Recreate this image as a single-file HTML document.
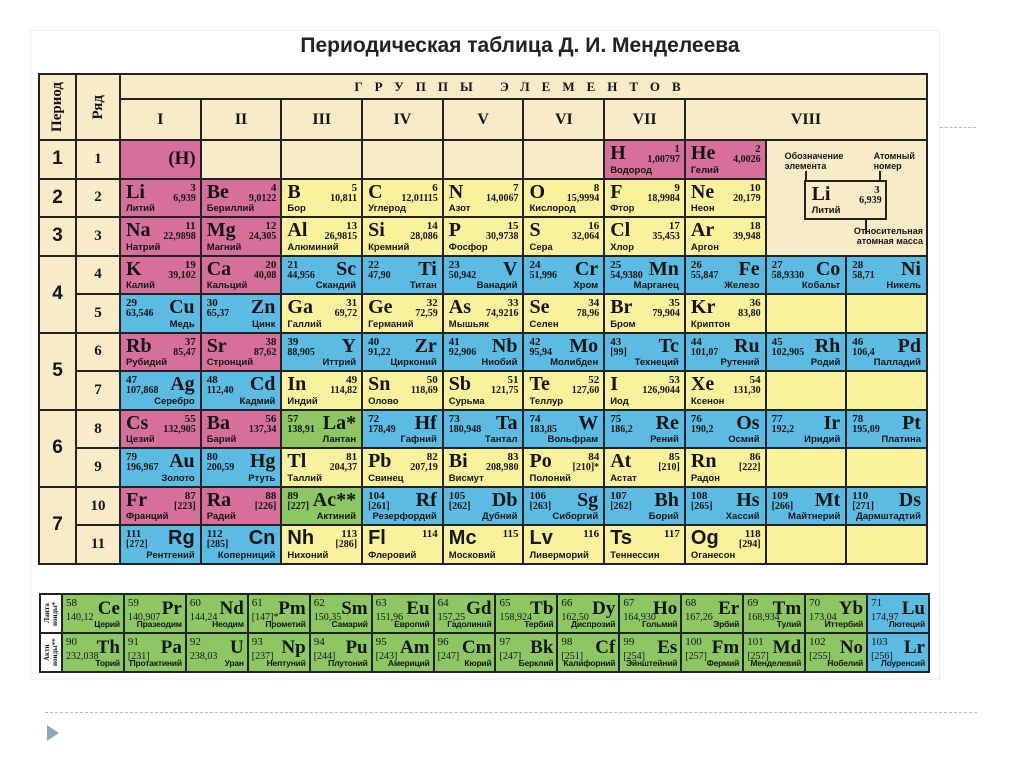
<!DOCTYPE html>
<html><head><meta charset="utf-8"><style>
*{margin:0;padding:0;box-sizing:border-box}
body{width:1024px;height:767px;background:#fff;position:relative;overflow:hidden;font-family:"Liberation Serif","DejaVu Serif",serif}
.title{position:absolute;left:0;width:1040px;top:34px;text-align:center;font:bold 21px "Liberation Sans","DejaVu Sans",sans-serif;color:#222}
.frame{position:absolute;left:30px;top:30px;width:910px;height:650px;background:#fff;border:1px solid #eee}
.dash{position:absolute;border-top:1.5px dashed #a9bccb}
.tri{position:absolute;left:47px;top:725px;width:0;height:0;border-top:8px solid transparent;border-bottom:8px solid transparent;border-left:12px solid #8fa7bd}
.t{position:absolute;left:38px;top:73px;width:890px;height:492px;display:grid;grid-template-columns:35px 42px repeat(10,minmax(0,1fr));grid-template-rows:23px 39px repeat(11,minmax(0,1fr));gap:2px;background:#222;border:2px solid #222}
.t>div{background:#f8ebc8;position:relative;color:#151515;overflow:hidden}
.t>div.p{background:#d6709b}.t>div.y{background:#f9f19c}.t>div.b{background:#5bbbe2}.t>div.g{background:#8cc763}
.hd{display:flex;align-items:center;justify-content:center;font-weight:bold}
.gr{letter-spacing:12px;font-size:13px}
.rn{font-size:16px}
.pn{font:bold 19px "Liberation Sans",sans-serif}
.ry{font-size:15px}
.vt{writing-mode:vertical-rl;transform:rotate(180deg);font-size:15px}
.c b{position:absolute;left:5px;top:1px;font-size:20px;line-height:22px}
.c i{position:absolute;right:4px;top:3px;font-size:11px;font-style:normal;font-weight:bold;line-height:11px}
.c u{position:absolute;right:4px;top:13px;font-size:10px;text-decoration:none;font-weight:bold;line-height:11px}
.c s{position:absolute;left:5px;bottom:2px;font:bold 9.5px "Liberation Sans",sans-serif;text-decoration:none;line-height:11px;white-space:nowrap}
.d b{left:auto;right:5px}.d i,.d u{right:auto;left:5px}.d s{left:auto;right:5px}
.sn b{font-family:"Liberation Sans",sans-serif}
.l{position:absolute;left:39px;top:593px;width:891px;height:80px;display:grid;grid-template-columns:20px repeat(14,minmax(0,1fr));grid-template-rows:1fr 1fr;gap:2px;background:#222;border:2px solid #222}
.l>div{position:relative;background:#8cc763;color:#151515;overflow:hidden}
.l>div.b{background:#5bbbe2}
.l>div.lb{background:#fff;writing-mode:vertical-rl;transform:rotate(180deg);font:bold 7px "Liberation Serif",serif;text-align:center;line-height:8px;display:flex;align-items:center;justify-content:center}
.l .c b{font-size:19px;top:3px;right:3px}
.l .c i{top:3px;left:3px;font-size:11px;font-weight:normal}
.l .c u{top:17px;left:3px;font-size:10px;font-weight:normal}
.l .c s{font-size:8.5px;right:3px;letter-spacing:-0.2px}
.lg{font:bold 9px "Liberation Sans",sans-serif;line-height:10px;position:absolute}
</style></head><body>
<div class="frame"></div>
<div class="title">Периодическая таблица Д. И. Менделеева</div>
<div class="dash" style="left:940px;top:127px;width:36px"></div>
<div class="dash" style="left:45px;top:712px;width:932px"></div>
<div class="tri"></div>

<div class="t">
<div class="hd" style="grid-area:1/1/3/2"><span class="vt">Период</span></div>
<div class="hd" style="grid-area:1/2/3/3"><span class="vt">Ряд</span></div>
<div class="hd gr" style="grid-area:1/3/2/13">ГРУППЫ ЭЛЕМЕНТОВ</div>
<div class="hd rn" style="grid-area:2/3">I</div><div class="hd rn" style="grid-area:2/4">II</div><div class="hd rn" style="grid-area:2/5">III</div><div class="hd rn" style="grid-area:2/6">IV</div><div class="hd rn" style="grid-area:2/7">V</div><div class="hd rn" style="grid-area:2/8">VI</div><div class="hd rn" style="grid-area:2/9">VII</div><div class="hd rn" style="grid-area:2/10/3/13">VIII</div>
<div class="hd pn" style="grid-area:3/1">1</div><div class="hd pn" style="grid-area:4/1">2</div><div class="hd pn" style="grid-area:5/1">3</div><div class="hd pn" style="grid-area:6/1/8/2">4</div><div class="hd pn" style="grid-area:8/1/10/2">5</div><div class="hd pn" style="grid-area:10/1/12/2">6</div><div class="hd pn" style="grid-area:12/1/14/2">7</div>
<div class="hd ry" style="grid-area:3/2">1</div><div class="hd ry" style="grid-area:4/2">2</div><div class="hd ry" style="grid-area:5/2">3</div><div class="hd ry" style="grid-area:6/2">4</div><div class="hd ry" style="grid-area:7/2">5</div><div class="hd ry" style="grid-area:8/2">6</div><div class="hd ry" style="grid-area:9/2">7</div><div class="hd ry" style="grid-area:10/2">8</div><div class="hd ry" style="grid-area:11/2">9</div><div class="hd ry" style="grid-area:12/2">10</div><div class="hd ry" style="grid-area:13/2">11</div>

<div class="p" style="grid-area:3/3;display:flex;align-items:center;justify-content:flex-end;padding-right:4px;font-weight:bold;font-size:19px">(H)</div>
<div style="grid-area:3/4"></div><div style="grid-area:3/5"></div><div style="grid-area:3/6"></div><div style="grid-area:3/7"></div><div style="grid-area:3/8"></div>
<div class="p c" style="grid-area:3/9"><b>H</b><i>1</i><u>1,00797</u><s>Водород</s></div>
<div class="p c" style="grid-area:3/10"><b>He</b><i>2</i><u>4,0026</u><s>Гелий</s></div>
<div style="grid-area:3/11/6/13">
<div class="lg" style="left:18px;top:10px">Обозначение<br>элемента</div>
<div class="lg" style="left:107px;top:10px">Атомный<br>номер</div>
<div style="position:absolute;left:38px;top:30px;width:2px;height:10px;background:#222"></div>
<div style="position:absolute;left:112px;top:30px;width:2px;height:10px;background:#222"></div>
<div style="position:absolute;left:37px;top:39px;width:83px;height:40px;border:2px solid #222"><b style="position:absolute;left:6px;top:1px;font-size:20px">Li</b><b style="position:absolute;right:5px;top:2px;font-size:11px">3</b><b style="position:absolute;right:3px;top:13px;font-size:10px">6,939</b><b style="position:absolute;left:6px;bottom:2px;font:bold 9.5px 'Liberation Sans',sans-serif">Литий</b></div>
<div style="position:absolute;left:98px;top:79px;width:2px;height:14px;background:#222"></div>
<div class="lg" style="right:3px;top:85px;text-align:right">Относительная<br>атомная масса</div>
</div>

<div class="p c" style="grid-area:4/3"><b>Li</b><i>3</i><u>6,939</u><s>Литий</s></div>
<div class="p c" style="grid-area:4/4"><b>Be</b><i>4</i><u>9,0122</u><s>Бериллий</s></div>
<div class="y c" style="grid-area:4/5"><b>B</b><i>5</i><u>10,811</u><s>Бор</s></div>
<div class="y c" style="grid-area:4/6"><b>C</b><i>6</i><u>12,01115</u><s>Углерод</s></div>
<div class="y c" style="grid-area:4/7"><b>N</b><i>7</i><u>14,0067</u><s>Азот</s></div>
<div class="y c" style="grid-area:4/8"><b>O</b><i>8</i><u>15,9994</u><s>Кислород</s></div>
<div class="y c" style="grid-area:4/9"><b>F</b><i>9</i><u>18,9984</u><s>Фтор</s></div>
<div class="y c" style="grid-area:4/10"><b>Ne</b><i>10</i><u>20,179</u><s>Неон</s></div>

<div class="p c" style="grid-area:5/3"><b>Na</b><i>11</i><u>22,9898</u><s>Натрий</s></div>
<div class="p c" style="grid-area:5/4"><b>Mg</b><i>12</i><u>24,305</u><s>Магний</s></div>
<div class="y c" style="grid-area:5/5"><b>Al</b><i>13</i><u>26,9815</u><s>Алюминий</s></div>
<div class="y c" style="grid-area:5/6"><b>Si</b><i>14</i><u>28,086</u><s>Кремний</s></div>
<div class="y c" style="grid-area:5/7"><b>P</b><i>15</i><u>30,9738</u><s>Фосфор</s></div>
<div class="y c" style="grid-area:5/8"><b>S</b><i>16</i><u>32,064</u><s>Сера</s></div>
<div class="y c" style="grid-area:5/9"><b>Cl</b><i>17</i><u>35,453</u><s>Хлор</s></div>
<div class="y c" style="grid-area:5/10"><b>Ar</b><i>18</i><u>39,948</u><s>Аргон</s></div>

<div class="p c" style="grid-area:6/3"><b>K</b><i>19</i><u>39,102</u><s>Калий</s></div>
<div class="p c" style="grid-area:6/4"><b>Ca</b><i>20</i><u>40,08</u><s>Кальций</s></div>
<div class="b c d" style="grid-area:6/5"><b>Sc</b><i>21</i><u>44,956</u><s>Скандий</s></div>
<div class="b c d" style="grid-area:6/6"><b>Ti</b><i>22</i><u>47,90</u><s>Титан</s></div>
<div class="b c d" style="grid-area:6/7"><b>V</b><i>23</i><u>50,942</u><s>Ванадий</s></div>
<div class="b c d" style="grid-area:6/8"><b>Cr</b><i>24</i><u>51,996</u><s>Хром</s></div>
<div class="b c d" style="grid-area:6/9"><b>Mn</b><i>25</i><u>54,9380</u><s>Марганец</s></div>
<div class="b c d" style="grid-area:6/10"><b>Fe</b><i>26</i><u>55,847</u><s>Железо</s></div>
<div class="b c d" style="grid-area:6/11"><b>Co</b><i>27</i><u>58,9330</u><s>Кобальт</s></div>
<div class="b c d" style="grid-area:6/12"><b>Ni</b><i>28</i><u>58,71</u><s>Никель</s></div>

<div class="b c d" style="grid-area:7/3"><b>Cu</b><i>29</i><u>63,546</u><s>Медь</s></div>
<div class="b c d" style="grid-area:7/4"><b>Zn</b><i>30</i><u>65,37</u><s>Цинк</s></div>
<div class="y c" style="grid-area:7/5"><b>Ga</b><i>31</i><u>69,72</u><s>Галлий</s></div>
<div class="y c" style="grid-area:7/6"><b>Ge</b><i>32</i><u>72,59</u><s>Германий</s></div>
<div class="y c" style="grid-area:7/7"><b>As</b><i>33</i><u>74,9216</u><s>Мышьяк</s></div>
<div class="y c" style="grid-area:7/8"><b>Se</b><i>34</i><u>78,96</u><s>Селен</s></div>
<div class="y c" style="grid-area:7/9"><b>Br</b><i>35</i><u>79,904</u><s>Бром</s></div>
<div class="y c" style="grid-area:7/10"><b>Kr</b><i>36</i><u>83,80</u><s>Криптон</s></div>
<div class="y" style="grid-area:7/11"></div><div class="y" style="grid-area:7/12"></div>

<div class="p c" style="grid-area:8/3"><b>Rb</b><i>37</i><u>85,47</u><s>Рубидий</s></div>
<div class="p c" style="grid-area:8/4"><b>Sr</b><i>38</i><u>87,62</u><s>Стронций</s></div>
<div class="b c d" style="grid-area:8/5"><b>Y</b><i>39</i><u>88,905</u><s>Иттрий</s></div>
<div class="b c d" style="grid-area:8/6"><b>Zr</b><i>40</i><u>91,22</u><s>Цирконий</s></div>
<div class="b c d" style="grid-area:8/7"><b>Nb</b><i>41</i><u>92,906</u><s>Ниобий</s></div>
<div class="b c d" style="grid-area:8/8"><b>Mo</b><i>42</i><u>95,94</u><s>Молибден</s></div>
<div class="b c d" style="grid-area:8/9"><b>Tc</b><i>43</i><u>[99]</u><s>Технеций</s></div>
<div class="b c d" style="grid-area:8/10"><b>Ru</b><i>44</i><u>101,07</u><s>Рутений</s></div>
<div class="b c d" style="grid-area:8/11"><b>Rh</b><i>45</i><u>102,905</u><s>Родий</s></div>
<div class="b c d" style="grid-area:8/12"><b>Pd</b><i>46</i><u>106,4</u><s>Палладий</s></div>

<div class="b c d" style="grid-area:9/3"><b>Ag</b><i>47</i><u>107,868</u><s>Серебро</s></div>
<div class="b c d" style="grid-area:9/4"><b>Cd</b><i>48</i><u>112,40</u><s>Кадмий</s></div>
<div class="y c" style="grid-area:9/5"><b>In</b><i>49</i><u>114,82</u><s>Индий</s></div>
<div class="y c" style="grid-area:9/6"><b>Sn</b><i>50</i><u>118,69</u><s>Олово</s></div>
<div class="y c" style="grid-area:9/7"><b>Sb</b><i>51</i><u>121,75</u><s>Сурьма</s></div>
<div class="y c" style="grid-area:9/8"><b>Te</b><i>52</i><u>127,60</u><s>Теллур</s></div>
<div class="y c" style="grid-area:9/9"><b>I</b><i>53</i><u>126,9044</u><s>Иод</s></div>
<div class="y c" style="grid-area:9/10"><b>Xe</b><i>54</i><u>131,30</u><s>Ксенон</s></div>
<div class="y" style="grid-area:9/11"></div><div class="y" style="grid-area:9/12"></div>

<div class="p c" style="grid-area:10/3"><b>Cs</b><i>55</i><u>132,905</u><s>Цезий</s></div>
<div class="p c" style="grid-area:10/4"><b>Ba</b><i>56</i><u>137,34</u><s>Барий</s></div>
<div class="g c d" style="grid-area:10/5"><b>La*</b><i>57</i><u>138,91</u><s>Лантан</s></div>
<div class="b c d" style="grid-area:10/6"><b>Hf</b><i>72</i><u>178,49</u><s>Гафний</s></div>
<div class="b c d" style="grid-area:10/7"><b>Ta</b><i>73</i><u>180,948</u><s>Тантал</s></div>
<div class="b c d" style="grid-area:10/8"><b>W</b><i>74</i><u>183,85</u><s>Вольфрам</s></div>
<div class="b c d" style="grid-area:10/9"><b>Re</b><i>75</i><u>186,2</u><s>Рений</s></div>
<div class="b c d" style="grid-area:10/10"><b>Os</b><i>76</i><u>190,2</u><s>Осмий</s></div>
<div class="b c d" style="grid-area:10/11"><b>Ir</b><i>77</i><u>192,2</u><s>Иридий</s></div>
<div class="b c d" style="grid-area:10/12"><b>Pt</b><i>78</i><u>195,09</u><s>Платина</s></div>

<div class="b c d" style="grid-area:11/3"><b>Au</b><i>79</i><u>196,967</u><s>Золото</s></div>
<div class="b c d" style="grid-area:11/4"><b>Hg</b><i>80</i><u>200,59</u><s>Ртуть</s></div>
<div class="y c" style="grid-area:11/5"><b>Tl</b><i>81</i><u>204,37</u><s>Таллий</s></div>
<div class="y c" style="grid-area:11/6"><b>Pb</b><i>82</i><u>207,19</u><s>Свинец</s></div>
<div class="y c" style="grid-area:11/7"><b>Bi</b><i>83</i><u>208,980</u><s>Висмут</s></div>
<div class="y c" style="grid-area:11/8"><b>Po</b><i>84</i><u>[210]*</u><s>Полоний</s></div>
<div class="y c" style="grid-area:11/9"><b>At</b><i>85</i><u>[210]</u><s>Астат</s></div>
<div class="y c" style="grid-area:11/10"><b>Rn</b><i>86</i><u>[222]</u><s>Радон</s></div>
<div class="y" style="grid-area:11/11"></div><div class="y" style="grid-area:11/12"></div>

<div class="p c" style="grid-area:12/3"><b>Fr</b><i>87</i><u>[223]</u><s>Франций</s></div>
<div class="p c" style="grid-area:12/4"><b>Ra</b><i>88</i><u>[226]</u><s>Радий</s></div>
<div class="g c d" style="grid-area:12/5"><b>Ac**</b><i>89</i><u>[227]</u><s>Актиний</s></div>
<div class="b c d" style="grid-area:12/6"><b>Rf</b><i>104</i><u>[261]</u><s>Резерфордий</s></div>
<div class="b c d" style="grid-area:12/7"><b>Db</b><i>105</i><u>[262]</u><s>Дубний</s></div>
<div class="b c d" style="grid-area:12/8"><b>Sg</b><i>106</i><u>[263]</u><s>Сиборгий</s></div>
<div class="b c d" style="grid-area:12/9"><b>Bh</b><i>107</i><u>[262]</u><s>Борий</s></div>
<div class="b c d" style="grid-area:12/10"><b>Hs</b><i>108</i><u>[265]</u><s>Хассий</s></div>
<div class="b c d" style="grid-area:12/11"><b>Mt</b><i>109</i><u>[266]</u><s>Майтнерий</s></div>
<div class="b c d" style="grid-area:12/12"><b>Ds</b><i>110</i><u>[271]</u><s>Дармштадтий</s></div>

<div class="b c d sn" style="grid-area:13/3"><b>Rg</b><i>111</i><u>[272]</u><s>Рентгений</s></div>
<div class="b c d sn" style="grid-area:13/4"><b>Cn</b><i>112</i><u>[285]</u><s>Коперниций</s></div>
<div class="y c sn" style="grid-area:13/5"><b>Nh</b><i>113</i><u>[286]</u><s>Нихоний</s></div>
<div class="y c sn" style="grid-area:13/6"><b>Fl</b><i>114</i><s>Флеровий</s></div>
<div class="y c sn" style="grid-area:13/7"><b>Mc</b><i>115</i><s>Московий</s></div>
<div class="y c sn" style="grid-area:13/8"><b>Lv</b><i>116</i><s>Ливерморий</s></div>
<div class="y c sn" style="grid-area:13/9"><b>Ts</b><i>117</i><s>Теннессин</s></div>
<div class="y c sn" style="grid-area:13/10"><b>Og</b><i>118</i><u>[294]</u><s>Оганесон</s></div>
<div class="y" style="grid-area:13/11"></div><div class="y" style="grid-area:13/12"></div>
</div>

<div class="l">
<div class="lb">Ланта<br>ноиды*</div>
<div class="c d"><b>Ce</b><i>58</i><u>140,12</u><s>Церий</s></div>
<div class="c d"><b>Pr</b><i>59</i><u>140,907</u><s>Празеодим</s></div>
<div class="c d"><b>Nd</b><i>60</i><u>144,24</u><s>Неодим</s></div>
<div class="c d"><b>Pm</b><i>61</i><u>[147]*</u><s>Прометий</s></div>
<div class="c d"><b>Sm</b><i>62</i><u>150,35</u><s>Самарий</s></div>
<div class="c d"><b>Eu</b><i>63</i><u>151,96</u><s>Европий</s></div>
<div class="c d"><b>Gd</b><i>64</i><u>157,25</u><s>Гадолиний</s></div>
<div class="c d"><b>Tb</b><i>65</i><u>158,924</u><s>Тербий</s></div>
<div class="c d"><b>Dy</b><i>66</i><u>162,50</u><s>Диспрозий</s></div>
<div class="c d"><b>Ho</b><i>67</i><u>164,930</u><s>Гольмий</s></div>
<div class="c d"><b>Er</b><i>68</i><u>167,26</u><s>Эрбий</s></div>
<div class="c d"><b>Tm</b><i>69</i><u>168,934</u><s>Тулий</s></div>
<div class="c d"><b>Yb</b><i>70</i><u>173,04</u><s>Иттербий</s></div>
<div class="c d b"><b>Lu</b><i>71</i><u>174,97</u><s>Лютеций</s></div>
<div class="lb">Акти<br>ноиды**</div>
<div class="c d"><b>Th</b><i>90</i><u>232,038</u><s>Торий</s></div>
<div class="c d"><b>Pa</b><i>91</i><u>[231]</u><s>Протактиний</s></div>
<div class="c d"><b>U</b><i>92</i><u>238,03</u><s>Уран</s></div>
<div class="c d"><b>Np</b><i>93</i><u>[237]</u><s>Нептуний</s></div>
<div class="c d"><b>Pu</b><i>94</i><u>[244]</u><s>Плутоний</s></div>
<div class="c d"><b>Am</b><i>95</i><u>[243]</u><s>Америций</s></div>
<div class="c d"><b>Cm</b><i>96</i><u>[247]</u><s>Кюрий</s></div>
<div class="c d"><b>Bk</b><i>97</i><u>[247]</u><s>Берклий</s></div>
<div class="c d"><b>Cf</b><i>98</i><u>[251]</u><s>Калифорний</s></div>
<div class="c d"><b>Es</b><i>99</i><u>[254]</u><s>Эйнштейний</s></div>
<div class="c d"><b>Fm</b><i>100</i><u>[257]</u><s>Фермий</s></div>
<div class="c d"><b>Md</b><i>101</i><u>[257]</u><s>Менделевий</s></div>
<div class="c d"><b>No</b><i>102</i><u>[255]</u><s>Нобелий</s></div>
<div class="c d b"><b>Lr</b><i>103</i><u>[256]</u><s>Лоуренсий</s></div>
</div>
</body></html>
